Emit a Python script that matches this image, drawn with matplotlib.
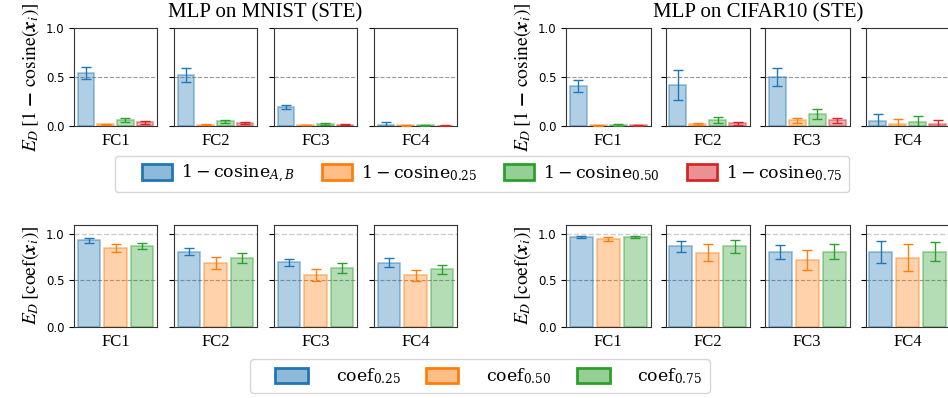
import numpy as np
import matplotlib
matplotlib.use("Agg")
import matplotlib.pyplot as plt
import matplotlib.patches as mpatches
from matplotlib.colors import to_rgba
from matplotlib.font_manager import FontProperties
from matplotlib.legend_handler import HandlerPatch

plt.rcParams['font.family'] = 'DejaVu Sans'
plt.rcParams['mathtext.fontset'] = 'stix'
SERIF = 'Liberation Serif'

layers = ["FC1", "FC2", "FC3", "FC4"]
titles = ["MLP on MNIST (STE)", "MLP on CIFAR10 (STE)"]

cos_labels = [r"$1 - \mathrm{cosine}_{A,B}$", r"$1 - \mathrm{cosine}_{0.25}$",
              r"$1 - \mathrm{cosine}_{0.50}$", r"$1 - \mathrm{cosine}_{0.75}\enspace\,$"]
coef_labels = [r"$\mathrm{coef}_{0.25}$", r"$\mathrm{coef}_{0.50}$",
               r"$\mathrm{coef}_{0.75}\enspace\,$"]

cos_colors = ["tab:blue", "tab:orange", "tab:green", "tab:red"]
coef_colors = ["tab:blue", "tab:orange", "tab:green"]

# 1 - cosine, one row per layer: [A,B, 0.25, 0.50, 0.75]
mnist_cos = [[0.54, 0.020, 0.060, 0.040],
             [0.52, 0.015, 0.050, 0.035],
             [0.19, 0.010, 0.020, 0.015],
             [0.012, 0.006, 0.006, 0.005]]
mnist_cos_err = [[0.065, 0.005, 0.020, 0.015],
                 [0.070, 0.004, 0.015, 0.010],
                 [0.020, 0.003, 0.008, 0.005],
                 [0.030, 0.004, 0.006, 0.004]]
cifar_cos = [[0.41, 0.006, 0.015, 0.006],
             [0.42, 0.025, 0.060, 0.030],
             [0.50, 0.060, 0.120, 0.060],
             [0.050, 0.025, 0.040, 0.020]]
cifar_cos_err = [[0.060, 0.004, 0.010, 0.004],
                 [0.150, 0.010, 0.030, 0.015],
                 [0.095, 0.025, 0.050, 0.025],
                 [0.070, 0.045, 0.065, 0.040]]

# coef, one row per layer: [0.25, 0.50, 0.75]
mnist_coef = [[0.930, 0.850, 0.870],
              [0.810, 0.685, 0.740],
              [0.695, 0.557, 0.633],
              [0.690, 0.555, 0.617]]
mnist_coef_err = [[0.025, 0.040, 0.035],
                  [0.035, 0.065, 0.055],
                  [0.040, 0.060, 0.050],
                  [0.050, 0.060, 0.050]]
cifar_coef = [[0.965, 0.943, 0.965],
              [0.867, 0.800, 0.865],
              [0.806, 0.720, 0.810],
              [0.805, 0.745, 0.810]]
cifar_coef_err = [[0.012, 0.020, 0.012],
                  [0.060, 0.090, 0.065],
                  [0.080, 0.110, 0.080],
                  [0.115, 0.145, 0.105]]

W, H = 948, 398
fig = plt.figure(figsize=(W / 100, H / 100), dpi=100)


def px_axes(x0, y0, w, h):
    return fig.add_axes([x0 / W, 1 - (y0 + h) / H, w / W, h / H])


def draw_panel(ax, vals, errs, colors):
    x = np.arange(len(vals))
    for i, c in enumerate(colors):
        ax.bar(x[i], vals[i], width=0.85, facecolor=to_rgba(c, 0.35),
               edgecolor=to_rgba(c, 0.45), linewidth=1.2, zorder=2)
        ax.errorbar(x[i], vals[i], yerr=errs[i], fmt='none', ecolor=c,
                    elinewidth=1, capsize=3.5, capthick=1, zorder=3)
    ax.set_xticks([])
    for s in ax.spines.values():
        s.set_color('0.2')


group_left = [[74, 174, 274, 374], [566, 665.5, 765, 865.5]]
group_w = [83, 84.5]

top_data = [(mnist_cos, mnist_cos_err), (cifar_cos, cifar_cos_err)]
bot_data = [(mnist_coef, mnist_coef_err), (cifar_coef, cifar_coef_err)]

for g in range(2):
    for k, layer in enumerate(layers):
        # top row: 1 - cosine
        ax = px_axes(group_left[g][k], 28, group_w[g], 98)
        draw_panel(ax, top_data[g][0][k], top_data[g][1][k], cos_colors)
        ax.axhline(0.5, color='0.6', ls='--', lw=0.8, zorder=1)
        ax.set_ylim(0, 1.0)
        ax.set_yticks([0.0, 0.5, 1.0])
        ax.tick_params(axis='y', labelsize=8.5)
        ax.set_xlabel(layer, family=SERIF, fontsize=12, labelpad=5)
        if k == 0:
            ax.set_ylabel(r"$E_D\,[1\ \mathbf{-}\ \mathrm{cosine}(\mathbfit{x}_i)]$",
                          fontsize=14, labelpad=3)
        else:
            ax.set_yticklabels([])

        # bottom row: coef
        ax = px_axes(group_left[g][k], 224.7, group_w[g], 102)
        draw_panel(ax, bot_data[g][0][k], bot_data[g][1][k], coef_colors)
        ax.axhline(0.5, color='0.6', ls='--', lw=0.8, zorder=1)
        ax.axhline(1.0, color='0.8', ls='--', lw=1.0, zorder=1)
        ax.set_ylim(0, 1.1)
        ax.set_yticks([0.0, 0.5, 1.0])
        ax.tick_params(axis='y', labelsize=8.5)
        ax.set_xlabel(layer, family=SERIF, fontsize=12, labelpad=5)
        if k == 0:
            ax.set_ylabel(r"$E_D\,[\mathrm{coef}(\mathbfit{x}_i)]$", fontsize=14,
                          labelpad=3)
        else:
            ax.set_yticklabels([])

    cx = group_left[g][0] + (group_left[g][3] + group_w[g] - group_left[g][0]) / 2
    fig.text(cx / W, 1 - 13 / H, titles[g], family=SERIF, fontsize=15,
             ha='center', va='center')


def shifted_patch(shift_pt):
    # legend patch drawn at the right end of a wider handle box
    def make(legend, orig_handle, xdescent, ydescent, width, height, fontsize):
        return mpatches.Rectangle((-xdescent + shift_pt, -ydescent),
                                  width - shift_pt, height)
    return HandlerPatch(patch_func=make)


leg_font = FontProperties(size=12.5, math_fontfamily='dejavuserif')

cos_handles = [mpatches.Patch(facecolor=to_rgba(c, 0.5), edgecolor=c, linewidth=2)
               for c in cos_colors]
coef_handles = [mpatches.Patch(facecolor=to_rgba(c, 0.5), edgecolor=c, linewidth=2)
                for c in coef_colors]

fig.legend(cos_handles, cos_labels, loc='center', bbox_to_anchor=(482 / W, 1 - 174 / H),
           ncol=4, prop=leg_font, handlelength=2.9, handleheight=0.98,
           handletextpad=0.5, columnspacing=0.4, borderpad=0.4,
           handler_map={mpatches.Patch: shifted_patch(14.4)})
fig.legend(coef_handles, coef_labels, loc='center', bbox_to_anchor=(480 / W, 1 - 376 / H),
           ncol=3, prop=leg_font, handlelength=2.9, handleheight=0.98,
           handletextpad=1.6, columnspacing=0.45, borderpad=0.4,
           handler_map={mpatches.Patch: shifted_patch(12.9)})

fig.savefig("out.png", dpi=100)
